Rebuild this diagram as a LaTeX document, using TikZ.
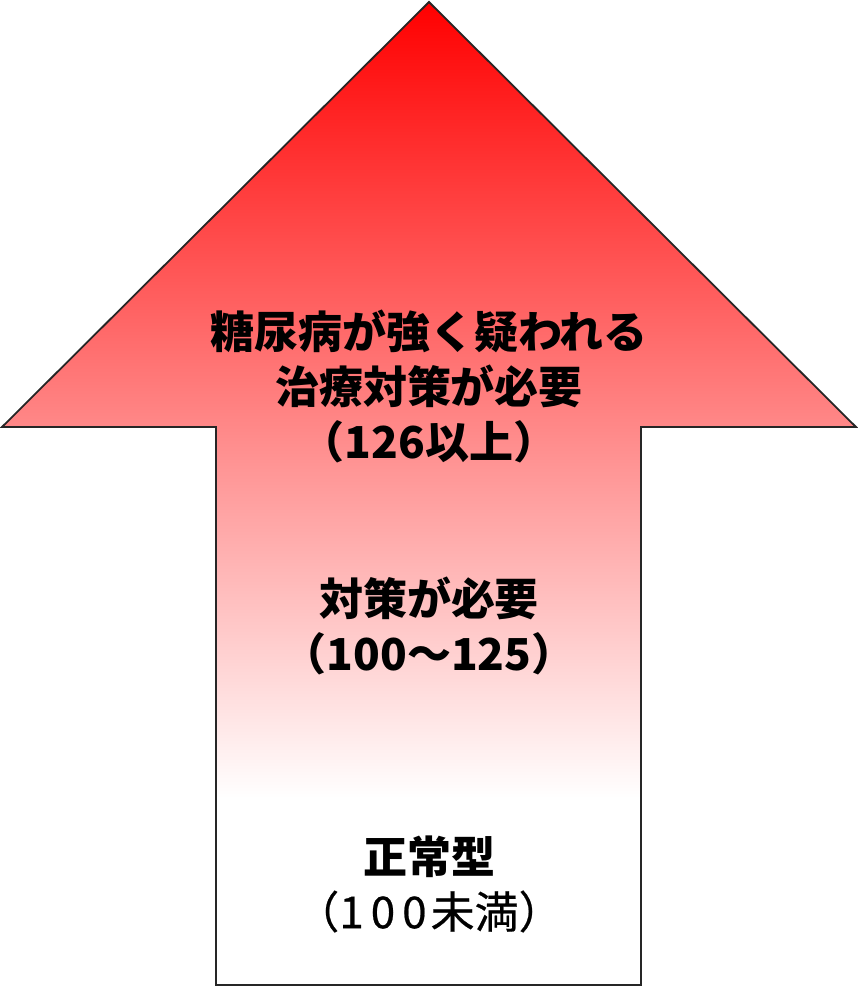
\documentclass[tikz,border=0pt]{standalone}
\usepackage{fontspec}
\newfontfamily\jpfont{Noto Sans CJK JP}
\newfontfamily\jpmedium[FakeBold=0.5]{Noto Sans CJK JP}
\newfontfamily\jpdigits[LetterSpace=16,FakeBold=0.5]{Noto Sans CJK JP}
\pgfdeclareverticalshading{arrowfade}{100bp}{color(0bp)=(white); color(34.5bp)=(white); color(75bp)=(red); color(100bp)=(red)}
\begin{document}
\begin{tikzpicture}[x=0.5pt,y=-0.5pt,
  label/.style={align=center, font=\jpfont\bfseries\fontsize{22}{27.5}\selectfont, inner sep=0pt}]
  \useasboundingbox (0,0) rectangle (858,987);

  % arrow body
  \shade[shading=arrowfade] (429,2) -- (856,427) -- (641,427) -- (641,985)
      -- (216,985) -- (216,427) -- (2,427) -- cycle;
  \draw[black!85, line width=0.9pt, line join=miter] (429,2) -- (856,427) -- (641,427) -- (641,985)
      -- (216,985) -- (216,427) -- (2,427) -- cycle;

  \node[label] (high) at (429,386) {糖尿病が強く疑われる\\治療対策が必要\\（126以上）};
  \node[label] (mid) at (429,626) {対策が必要\\（100～125）};
  \node[label] (low) at (429,884) {正常型\\\jpmedium\mdseries（{\jpdigits\mdseries 100}\kern2pt 未満）};
\end{tikzpicture}
\end{document}
